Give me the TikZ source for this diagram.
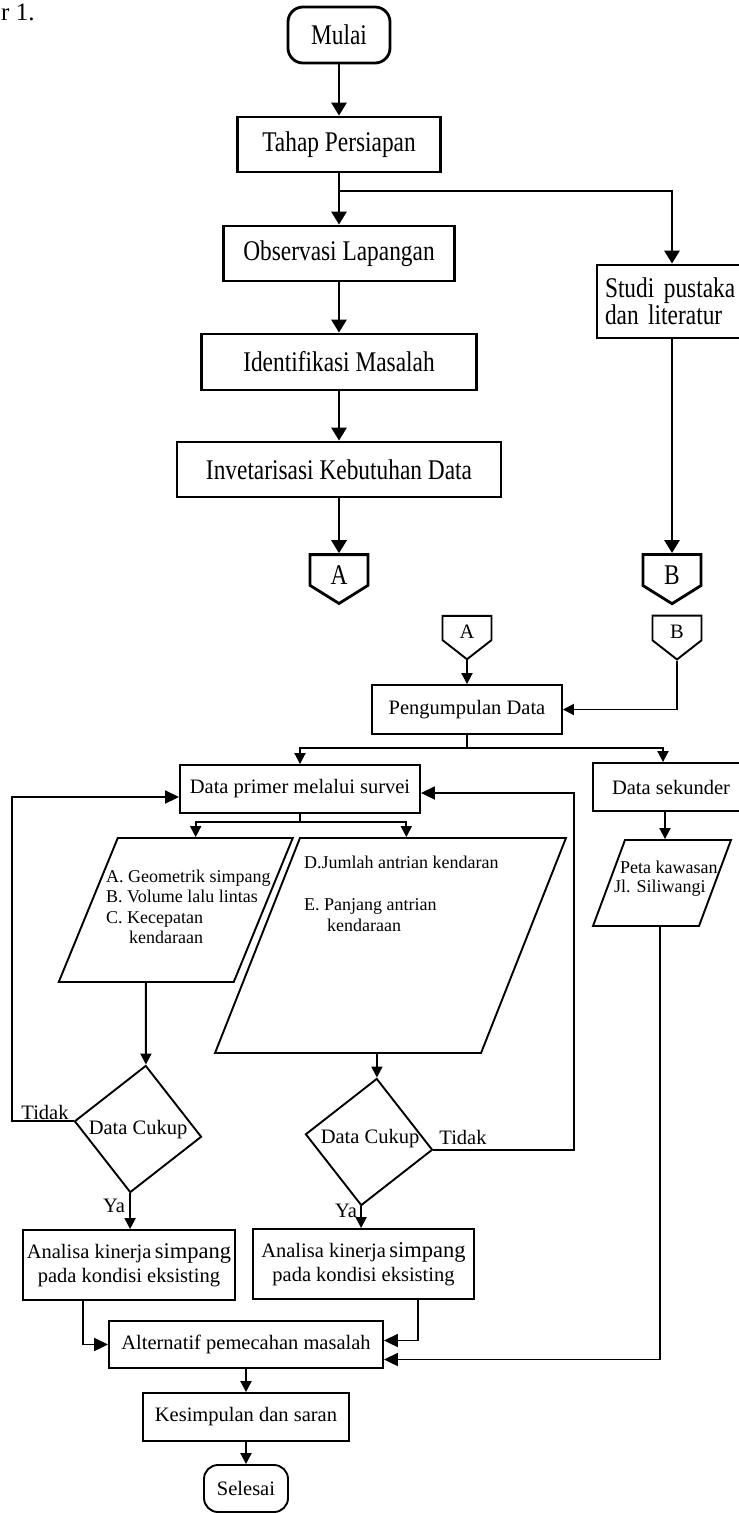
\documentclass[tikz,border=0pt]{standalone}
\usepackage{fontspec}
\setmainfont{Liberation Serif}
\newfontfamily\atasfont[FakeStretch=0.82]{Liberation Serif}
\usetikzlibrary{calc}
\usetikzlibrary{arrows.meta}
\usetikzlibrary{shapes.geometric}
\usetikzlibrary{shapes.symbols}
\newcommand*{\lwtop}{2.8pt}
\newcommand*{\lwlow}{1.9pt}
\newcommand*{\fnttop}{\atasfont\fontsize{28.5}{25}\selectfont}
\newcommand*{\fntlow}{\fontsize{20.5}{24}\selectfont}
\newcommand*{\fntpar}{\fontsize{18}{20.5}\selectfont}

\begin{document}
\begin{tikzpicture}[x=1pt, y=-1pt,
    boxtop/.style={draw, line width=\lwtop, font=\fnttop, inner sep=0pt},
    boxlow/.style={draw, line width=\lwlow, font=\fntlow, inner sep=0pt},
    arrtop/.style={line width=\lwtop, -{Triangle[width=15pt,length=13pt]}},
    arrlow/.style={line width=\lwlow, -{Triangle[width=11pt,length=11pt]}},
    arrbig/.style={line width=\lwlow, -{Triangle[width=13pt,length=14pt]}},
    offpage/.style={draw, shape=signal, signal to=south, signal from=nowhere, inner sep=0pt},
    datain/.style={draw, line width=\lwlow, inner sep=0pt},
    decide/.style={draw, line width=\lwlow, shape=diamond, inner sep=0pt, minimum width=128pt, minimum height=128pt, rotate=-7},
    teks/.style={inner sep=0pt, align=left, anchor=north west}]
    \useasboundingbox (0,0) rectangle (739,1513);
    \clip (0,0) rectangle (739,1513);
    \node (gbr) [anchor=base west, inner sep=0pt, font=\fontsize{25}{25}\selectfont] at (1,20) {r 1.};
    % bagian atas
    \node (mulai) [boxtop, rounded corners=15pt, minimum width=102pt, minimum height=56pt] at (339,35) {Mulai};
    \node (tahap) [boxtop, minimum width=203pt, minimum height=55pt] at (339,144.5) {Tahap Persiapan};
    \node (obs)   [boxtop, minimum width=231pt, minimum height=55pt] at (339,253.5) {Observasi Lapangan};
    \node (iden)  [boxtop, minimum width=275pt, minimum height=56pt] at (339,362) {Identifikasi Masalah};
    \node (inv)   [boxtop, minimum width=324pt, minimum height=55pt] at (339,469.5) {Invetarisasi Kebutuhan Data};
    \node (studi) [boxtop, minimum width=150pt, minimum height=73pt, text width=134pt, align=left] at (672,301.5) {Studi pustaka\\dan literatur};
    \node (offA)  [offpage, line width=\lwtop, font=\fnttop, minimum width=58pt, minimum height=36pt, signal pointer angle=116] at (339,570) {\raisebox{-5pt}[\height][\depth]{A}};
    \node (offB)  [offpage, line width=\lwtop, font=\fnttop, minimum width=58pt, minimum height=36pt, signal pointer angle=116] at (672,570) {\raisebox{-5pt}[\height][\depth]{B}};
    \coordinate (cab1) at (339,191);
    \draw [arrtop] (mulai.south) -- (tahap.north);
    \draw [arrtop] (tahap.south) -- (cab1) -| (studi.north);
    \draw [arrtop] (cab1) -- (obs.north);
    \draw [arrtop] (obs.south) -- (iden.north);
    \draw [arrtop] (iden.south) -- (inv.north);
    \draw [arrtop] (inv.south) -- (offA.north);
    \draw [arrtop] (studi.south) -- (offB.north);
    % bagian bawah
    \node (conA)     [offpage, line width=\lwlow, font=\fntlow, minimum width=49pt, minimum height=30pt, signal pointer angle=104] at (467,628) {\raisebox{-4pt}[\height][\depth]{A}};
    \node (conB)     [offpage, line width=\lwlow, font=\fntlow, minimum width=49pt, minimum height=30pt, signal pointer angle=104] at (677,628) {\raisebox{-4pt}[\height][\depth]{B}};
    \node (kumpul)   [boxlow, minimum width=190pt, minimum height=49pt] at (467,709.5) {Pengumpulan Data};
    \node (primer)   [boxlow, minimum width=240pt, minimum height=48pt] at (300,789) {Data primer melalui survei};
    \node (sekunder) [boxlow, minimum width=156pt, minimum height=48pt] at (671,787) {Data sekunder};
    \node (para1) [datain, xslant=0.41, minimum width=175pt, minimum height=144pt] at (175.75,910) {};
    \node (para2) [datain, xslant=0.395, minimum width=266pt, minimum height=215pt] at (390.5,945.5) {};
    \node (para3) [datain, xslant=0.372, minimum width=106pt, minimum height=86pt] at (662,883) {};
    \node (teks1) [teks, font=\fntpar] at (106,869.5) {A. Geometrik simpang\\B. Volume lalu lintas\\C. Kecepatan\\\hspace*{23pt}kendaraan};
    \node (teks2) [teks, font=\fontsize{18}{21}\selectfont] at (304,855.5) {D.Jumlah antrian kendaran\\[21pt]E. Panjang antrian\\\hspace*{23pt}kendaraan};
    \node (teks3) [teks, font=\fontsize{18}{19}\selectfont] at (620,860.5) {Peta kawasan\\\hspace*{-6pt}Jl. Siliwangi};
    \node (cukup1) [decide] at (138,1129) {};
    \node (cukup2) [decide] at (369,1142) {};
    \node (tcukup1) [inner sep=0pt, font=\fntlow] at (138,1130) {Data Cukup};
    \node (tcukup2) [inner sep=0pt, font=\fntlow] at (370,1139) {Data Cukup};
    \node (tidak1) [inner sep=0pt, font=\fntlow] at (45,1112) {Tidak};
    \node (tidak2) [inner sep=0pt, font=\fntlow] at (463,1137) {Tidak};
    \node (ya1) [inner sep=0pt, font=\fntlow] at (114,1206) {Ya};
    \node (ya2) [inner sep=0pt, font=\fntlow] at (346,1211) {Ya};
    \node (anl1) [boxlow, minimum width=212pt, minimum height=70pt, align=center] at (129,1265) {Analisa kinerja\,{\fontsize{22.5}{24}\selectfont simpang}\\pada kondisi eksisting};
    \node (anl2) [boxlow, minimum width=221pt, minimum height=70pt, align=center] at (363.5,1264) {Analisa kinerja\,{\fontsize{22.5}{24}\selectfont simpang}\\pada kondisi eksisting};
    \node (alt)     [boxlow, minimum width=274pt, minimum height=47pt] at (246,1344.5) {Alternatif pemecahan masalah};
    \node (simpul)  [boxlow, minimum width=206pt, minimum height=48pt] at (246,1417) {Kesimpulan dan saran};
    \node (selesai) [boxlow, rounded corners=14pt, minimum width=84pt, minimum height=47pt] at (246,1488.5) {Selesai};
    \coordinate (cab2) at (467,748);
    \coordinate (cab3) at (300,822);
    \coordinate (sek) at ($(sekunder.south)+(-6,0)$);
    \coordinate (kiri) at (12,797);
    \coordinate (kanan) at (574,793);
    \draw [arrlow] (conA.south) -- (conA.south |- kumpul.north);
    \draw [arrlow] (conB.south) |- (kumpul.east);
    \draw [arrlow] (kumpul.south) -- (cab2) -| (primer.north);
    \draw [arrlow] (cab2) -| ($(sekunder.north)+(-8,0)$);
    \draw [arrlow] (primer.south) -- (cab3) -| ($(para1.north)+(-10,0)$);
    \draw [arrlow] (cab3) -| ($(para2.north)+(-27,0)$);
    \draw [arrlow] (sek) -- (sek |- para3.north);
    \draw [arrlow] (para1.south) -- (cukup1.north);
    \draw [arrlow] (cukup2.north |- para2.south) -- (cukup2.north);
    \draw [arrbig] (cukup1.west) -| (kiri) -- ($(primer.west)+(0,8)$);
    \draw [arrbig] (cukup2.east) -| (kanan) -- ($(primer.east)+(0,4)$);
    \draw [arrlow] (cukup1.south) -- (cukup1.south |- anl1.north);
    \draw [arrlow] (cukup2.south) -- (cukup2.south |- anl2.north);
    \draw [arrbig] ($(anl1.south)+(-46,0)$) |- (alt.west);
    \draw [arrbig] ($(anl2.south)+(54.5,0)$) |- ($(alt.east)+(0,-4)$);
    \draw [arrbig] ($(para3.south)+(14,0)$) |- ($(alt.east)+(0,15)$);
    \draw [arrlow] (alt.south) -- (simpul.north);
    \draw [arrlow] (simpul.south) -- (selesai.north);
\end{tikzpicture}
\end{document}
